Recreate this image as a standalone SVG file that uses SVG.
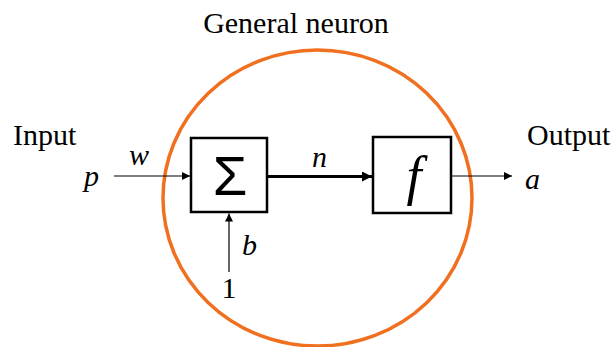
<svg xmlns="http://www.w3.org/2000/svg" width="614" height="347" viewBox="0 0 614 347">
<style>
.i{font-style:italic}
.box{fill:#fff;stroke:#000;stroke-width:2.5}
.thin{stroke:#000;stroke-width:1.2;fill:none}
.thick{stroke:#000;stroke-width:3;fill:none}
</style>
<defs>
<marker id="ah" viewBox="0 0 10 10" refX="10" refY="5" markerWidth="10" markerHeight="8" markerUnits="userSpaceOnUse" orient="auto">
<path d="M0,0 L10,5 L0,10 Z" fill="#000"/>
</marker>
<marker id="ahb" viewBox="0 0 10 10" refX="10" refY="5" markerWidth="12" markerHeight="10" markerUnits="userSpaceOnUse" orient="auto">
<path d="M0,0 L10,5 L0,10 Z" fill="#000"/>
</marker>
</defs>
<rect width="614" height="347" fill="#fff"/>
<g id="neuron-boundary">
<ellipse cx="317.5" cy="198" rx="154.5" ry="148" fill="none" stroke="#F07020" stroke-width="3.5"/>
</g>
<g font-family="Liberation Serif, Times New Roman, DejaVu Serif, serif" font-size="30" fill="#000">
<g id="title"><text x="296" y="33" text-anchor="middle">General neuron</text></g>
<g id="input-label"><text x="13" y="145">Input</text></g>
<g id="output-label"><text x="527" y="145">Output</text></g>
<g id="input-p"><text class="i" x="84" y="186">p</text></g>
<g id="weight-w"><text class="i" x="129" y="165">w</text></g>
<g id="net-n"><text class="i" x="312" y="167">n</text></g>
<g id="output-a"><text class="i" x="525" y="189">a</text></g>
<g id="bias-b"><text class="i" x="242" y="255">b</text></g>
<g id="bias-one"><text x="229" y="298" text-anchor="middle">1</text></g>
</g>
<g id="connectors">
<line class="thin" x1="114" y1="176" x2="190" y2="176" marker-end="url(#ah)"/>
<line class="thick" x1="268" y1="176.5" x2="372" y2="176.5" marker-end="url(#ahb)"/>
<line class="thin" x1="452" y1="176" x2="512" y2="176" marker-end="url(#ah)"/>
<line class="thin" x1="229" y1="272" x2="229" y2="213.5" marker-end="url(#ah)"/>
</g>
<g id="sum-node">
<rect class="box" x="191" y="138" width="76" height="74"/>
<text x="230" y="195" text-anchor="middle" font-family="Liberation Sans, Arial, sans-serif" font-size="56" fill="#000">Σ</text>
</g>
<g id="transfer-node">
<rect class="box" x="373" y="137" width="78" height="76"/>
<text class="i" x="414" y="194" text-anchor="middle" font-family="Liberation Serif, Times New Roman, DejaVu Serif, serif" font-size="54" fill="#000">f</text>
</g>
</svg>
